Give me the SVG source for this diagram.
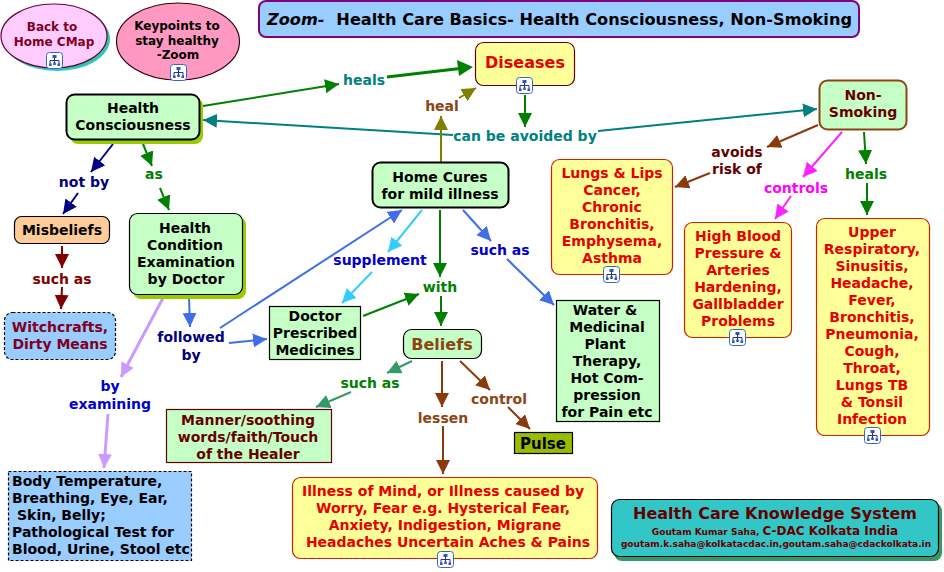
<svg xmlns="http://www.w3.org/2000/svg" xmlns:xlink="http://www.w3.org/1999/xlink" width="944" height="572" viewBox="0 0 944 572">
<style>
text{font-family:"DejaVu Sans",Verdana,sans-serif;font-weight:700;font-size:14px;text-anchor:middle}
text.e{font-size:12px}
.k{fill:#000}.r{fill:#e60000}.d{fill:#660000}.m{fill:#800020}
.g{fill:#c6ffc6}.y{fill:#ffff99}
.b1{stroke:#000;stroke-width:1.2}.b2{stroke:#000;stroke-width:2}.br{stroke:#cc2200;stroke-width:1.2}
.c{fill:none;stroke-width:2}
.lg{fill:#008000}.lt{fill:#008080}.ln{fill:#000080}.lb{fill:#0000cc}.lo{fill:#8b4513}.lr{fill:#800000}.lm{fill:#ff00ff}
</style>
<defs>
<marker id="aG" markerUnits="userSpaceOnUse" markerWidth="16" markerHeight="16" refX="14" refY="7" orient="auto"><path d="M0 0L14 7L0 14z" fill="#008000"/></marker>
<marker id="aGL" markerUnits="userSpaceOnUse" markerWidth="16" markerHeight="16" refX="14" refY="7" orient="auto"><path d="M0 0L14 7L0 14z" fill="#339966"/></marker>
<marker id="aT" markerUnits="userSpaceOnUse" markerWidth="16" markerHeight="16" refX="14" refY="7" orient="auto"><path d="M0 0L14 7L0 14z" fill="#008080"/></marker>
<marker id="aO" markerUnits="userSpaceOnUse" markerWidth="16" markerHeight="16" refX="14" refY="7" orient="auto"><path d="M0 0L14 7L0 14z" fill="#808000"/></marker>
<marker id="aN" markerUnits="userSpaceOnUse" markerWidth="16" markerHeight="16" refX="14" refY="7" orient="auto"><path d="M0 0L14 7L0 14z" fill="#000080"/></marker>
<marker id="aR" markerUnits="userSpaceOnUse" markerWidth="16" markerHeight="16" refX="14" refY="7" orient="auto"><path d="M0 0L14 7L0 14z" fill="#800000"/></marker>
<marker id="aB" markerUnits="userSpaceOnUse" markerWidth="16" markerHeight="16" refX="14" refY="7" orient="auto"><path d="M0 0L14 7L0 14z" fill="#3f6ee8"/></marker>
<marker id="aL" markerUnits="userSpaceOnUse" markerWidth="16" markerHeight="16" refX="14" refY="7" orient="auto"><path d="M0 0L14 7L0 14z" fill="#cc99ff"/></marker>
<marker id="aS" markerUnits="userSpaceOnUse" markerWidth="16" markerHeight="16" refX="14" refY="7" orient="auto"><path d="M0 0L14 7L0 14z" fill="#33ccff"/></marker>
<marker id="aW" markerUnits="userSpaceOnUse" markerWidth="16" markerHeight="16" refX="14" refY="7" orient="auto"><path d="M0 0L14 7L0 14z" fill="#8b3a0e"/></marker>
<marker id="aM" markerUnits="userSpaceOnUse" markerWidth="16" markerHeight="16" refX="14" refY="7" orient="auto"><path d="M0 0L14 7L0 14z" fill="#ff22ff"/></marker>
<symbol id="ic" viewBox="0 0 17 17" overflow="visible">
<rect x=".5" y=".5" width="16" height="16" rx="3" fill="#fff" stroke="#3366cc"/>
<path d="M8.500 6V8M4 12V8.500H13V12M8.500 8V12" fill="none" stroke="#223388" stroke-width="1"/>
<path d="M6.500 3h4v3h-4zM3 11.500h2.600v2.500H3zM7.200 10.500h2.600v2.500H7.200zM11.500 11.500h2.600v2.500h-2.600z" fill="#3355bb"/>
</symbol>
</defs>

<g id="connectors">
<path class="c" stroke="#008000" marker-end="url(#aG)" d="M203 106L339 84"/>
<path fill="none" stroke="#008000" stroke-width="3" d="M387 77L460 68.500"/><path fill="#008000" d="M473 67L457 60L459 76z"/>
<path class="c" stroke="#008080" marker-end="url(#aT)" d="M453 135L203 120"/>
<path class="c" stroke="#008080" marker-end="url(#aT)" d="M598 131L817 109"/>
<path class="c" stroke="#808000" marker-end="url(#aO)" d="M441 162V116"/>
<path class="c" stroke="#808000" marker-end="url(#aO)" d="M459 98L476 88"/>
<path class="c" stroke="#008000" marker-end="url(#aG)" d="M525 95V127"/>
<path class="c" stroke="#8b3a0e" marker-end="url(#aW)" d="M818 125L767 147"/>
<path class="c" stroke="#8b3a0e" marker-end="url(#aW)" d="M710 173L675 187"/>
<path class="c" stroke="#ff22ff" marker-end="url(#aM)" d="M842 132L803 177"/>
<path class="c" stroke="#ff22ff" marker-end="url(#aM)" d="M791 196L775 219"/>
<path class="c" stroke="#008000" marker-end="url(#aG)" d="M864 132L866 164"/>
<path class="c" stroke="#008000" marker-end="url(#aG)" d="M867 183V215"/>
<path class="c" stroke="#000080" marker-end="url(#aN)" d="M113 144L91 172"/>
<path class="c" stroke="#000080" marker-end="url(#aN)" d="M78 193L63 214"/>
<path class="c" stroke="#008000" marker-end="url(#aG)" d="M143 144L152 166"/>
<path class="c" stroke="#008000" marker-end="url(#aG)" d="M160 188L169 210"/>
<path class="c" stroke="#800000" marker-end="url(#aR)" d="M62 246V268"/>
<path class="c" stroke="#800000" marker-end="url(#aR)" d="M62 287L61 309"/>
<path class="c" stroke="#3f6ee8" marker-end="url(#aB)" d="M189 298L190 327"/>
<path fill="none" stroke="#cc99ff" stroke-width="3" marker-end="url(#aL)" d="M163 298L121 377"/>
<path fill="none" stroke="#cc99ff" stroke-width="3" marker-end="url(#aL)" d="M108 414L104 468"/>
<path class="c" stroke="#3f6ee8" marker-end="url(#aB)" d="M220 328L402 210"/>
<path class="c" stroke="#3f6ee8" marker-end="url(#aB)" d="M229 343L267 339"/>
<path class="c" stroke="#33ccff" marker-end="url(#aS)" d="M422 210L388 252"/>
<path class="c" stroke="#33ccff" marker-end="url(#aS)" d="M372 272L342 303"/>
<path class="c" stroke="#008000" marker-end="url(#aG)" d="M440 210V277"/>
<path class="c" stroke="#008000" marker-end="url(#aG)" d="M441 296V326"/>
<path class="c" stroke="#008000" marker-end="url(#aG)" d="M363 316L419 294"/>
<path class="c" stroke="#3f6ee8" marker-end="url(#aB)" d="M463 210L491 241"/>
<path class="c" stroke="#3f6ee8" marker-end="url(#aB)" d="M507 259L554 305"/>
<path class="c" stroke="#339966" marker-end="url(#aGL)" d="M412 361L387 373"/>
<path class="c" stroke="#339966" marker-end="url(#aGL)" d="M351 392L316 407"/>
<path class="c" stroke="#8b3a0e" marker-end="url(#aW)" d="M442 361V407"/>
<path class="c" stroke="#8b3a0e" marker-end="url(#aW)" d="M443 426V474"/>
<path class="c" stroke="#8b3a0e" marker-end="url(#aW)" d="M460 361L490 390"/>
<path class="c" stroke="#8b3a0e" marker-end="url(#aW)" d="M508 407L530 429"/>
</g>

<g id="connector-labels">
<text class="lt" x="364" y="85">heals</text>
<text class="lo" x="442" y="111">heal</text>
<text class="lt" x="525" y="141">can be avoided by</text>
<text class="ln" x="84" y="187">not by</text>
<text class="lg" x="154" y="179">as</text>
<text class="lr" x="62" y="284">such as</text>
<text class="ln" x="191" y="342">followed</text><text class="ln" x="191" y="360">by</text>
<text class="lb" x="110" y="391">by</text><text class="lb" x="110" y="409">examining</text>
<text class="lb" x="380" y="265">supplement</text>
<text class="lg" x="440" y="292">with</text>
<text class="lb" x="500" y="255">such as</text>
<text class="lg" x="370" y="388">such as</text>
<text class="lo" x="443" y="423">lessen</text>
<text class="lo" x="499" y="404">control</text>
<text class="d" x="737" y="157">avoids</text><text class="d" x="737" y="174">risk of</text>
<text class="lm" x="796" y="193">controls</text>
<text class="lg" x="866" y="179">heals</text>
</g>

<g id="back-home">
<ellipse cx="57" cy="39" rx="53" ry="32" fill="#2fc6b6"/>
<ellipse cx="54" cy="36" rx="53" ry="32" fill="#ffccff" stroke="#660033" stroke-width="1.2"/>
<text class="m e" x="52" y="31">Back to</text><text class="m e" x="54" y="46">Home CMap</text>
<use xlink:href="#ic" x="46" y="52" width="17" height="17"/>
</g>
<g id="keypoints">
<ellipse cx="178" cy="41.500" rx="61.500" ry="38.500" fill="#ff99c2" stroke="#330011" stroke-width="1.2"/>
<text class="k e" x="177" y="30">Keypoints to</text><text class="k e" x="177" y="45">stay healthy</text><text class="k e" x="178" y="59">-Zoom</text>
<use xlink:href="#ic" x="170" y="64" width="17" height="17"/>
</g>
<g id="title">
<rect x="259" y="1" width="600" height="36" rx="7" fill="#99ccff" stroke="#800080" stroke-width="2"/>
<text x="267" y="25" style="text-anchor:start;font-size:15.500px" fill="#000" textLength="585" lengthAdjust="spacingAndGlyphs"><tspan font-style="italic">Zoom-</tspan>  <tspan dx="6">Health Care Basics- Health Consciousness, Non-Smoking</tspan></text>
</g>
<g id="health-consciousness">
<rect x="70" y="98" width="133" height="46" rx="8" fill="#99cc00"/>
<rect x="66.500" y="94.500" width="133" height="45" rx="8" class="g b2"/>
<text class="k" x="133" y="113">Health</text><text class="k" x="133" y="130">Consciousness</text>
</g>
<g id="misbeliefs">
<rect x="14.500" y="216.500" width="95" height="27" rx="7" fill="#ffcc99" class="b1"/>
<text class="k" x="62" y="235">Misbeliefs</text>
</g>
<g id="witchcrafts">
<rect x="4.500" y="312.500" width="111" height="47" rx="8" fill="#99ccff" class="b1" stroke-dasharray="3 2"/>
<text class="m" x="60" y="332">Witchcrafts,</text><text class="m" x="60" y="349">Dirty Means</text>
</g>
<g id="health-condition">
<rect x="133" y="217" width="113" height="82" rx="8" fill="#99cc00"/>
<rect x="129.500" y="213.500" width="113" height="81" rx="8" class="g b1"/>
<text class="k" x="185" y="233">Health</text><text class="k" x="185" y="250">Condition</text><text class="k" x="186" y="267">Examination</text><text class="k" x="186" y="284">by Doctor</text>
</g>
<g id="body-temperature">
<rect x="8.500" y="471.500" width="183" height="89" fill="#99ccff" class="b1" stroke-dasharray="3 2"/>
<text class="k" x="12" y="486" style="text-anchor:start">Body Temperature,</text><text class="k" x="12" y="503" style="text-anchor:start">Breathing, Eye, Ear,</text><text class="k" x="17" y="520" style="text-anchor:start">Skin, Belly;</text><text class="k" x="12" y="537" style="text-anchor:start">Pathological Test for</text><text class="k" x="12" y="554" style="text-anchor:start">Blood, Urine, Stool etc</text>
</g>
<g id="doctor-medicines">
<rect x="269.500" y="306.500" width="91" height="53" class="g b1"/>
<text class="k" x="315" y="321">Doctor</text><text class="k" x="315" y="338">Prescribed</text><text class="k" x="315" y="355">Medicines</text>
</g>
<g id="home-cures">
<rect x="372.500" y="162.500" width="136" height="45" rx="8" class="g b2"/>
<text class="k" x="440" y="182">Home Cures</text><text class="k" x="440" y="199">for mild illness</text>
</g>
<g id="diseases">
<rect x="475.500" y="42.500" width="99" height="43" rx="8" class="y" stroke="#660000" stroke-width="1.2"/>
<text class="r" x="525" y="68" style="font-size:16px">Diseases</text>
<use xlink:href="#ic" x="516" y="77" width="17" height="17"/>
</g>
<g id="non-smoking">
<rect x="819.500" y="80.500" width="87" height="49" rx="8" class="g" stroke="#8b4513" stroke-width="2"/>
<text class="d" x="863" y="100">Non-</text><text class="d" x="863" y="117">Smoking</text>
</g>
<g id="lungs">
<rect x="551.500" y="159.500" width="121" height="115" rx="8" class="y br"/>
<text class="r" x="612" y="178">Lungs &amp; Lips</text><text class="r" x="612" y="195">Cancer,</text><text class="r" x="612" y="212">Chronic</text><text class="r" x="612" y="229">Bronchitis,</text><text class="r" x="612" y="246">Emphysema,</text><text class="r" x="612" y="263">Asthma</text>
<use xlink:href="#ic" x="603" y="266" width="17" height="17"/>
</g>
<g id="high-blood">
<rect x="684.500" y="222.500" width="107" height="115" rx="8" class="y br"/>
<text class="r" x="738" y="241">High Blood</text><text class="r" x="738" y="258">Pressure &amp;</text><text class="r" x="738" y="275">Arteries</text><text class="r" x="738" y="292">Hardening,</text><text class="r" x="738" y="309">Gallbladder</text><text class="r" x="738" y="326">Problems</text>
<use xlink:href="#ic" x="729" y="329" width="17" height="17"/>
</g>
<g id="upper-respiratory">
<rect x="816.500" y="218.500" width="113" height="217" rx="8" class="y br"/>
<text class="r" x="872" y="237">Upper</text><text class="r" x="872" y="254">Respiratory,</text><text class="r" x="872" y="271">Sinusitis,</text><text class="r" x="872" y="288">Headache,</text><text class="r" x="872" y="305">Fever,</text><text class="r" x="872" y="322">Bronchitis,</text><text class="r" x="872" y="339">Pneumonia,</text><text class="r" x="872" y="356">Cough,</text><text class="r" x="872" y="373">Throat,</text><text class="r" x="872" y="390">Lungs TB</text><text class="r" x="872" y="407">&amp; Tonsil</text><text class="r" x="872" y="424">Infection</text>
<use xlink:href="#ic" x="864" y="427" width="17" height="17"/>
</g>
<g id="water">
<rect x="556.500" y="300.500" width="103" height="121" class="g b1"/>
<text class="k" x="605" y="315">Water &amp;</text><text class="k" x="607" y="332">Medicinal</text><text class="k" x="605" y="349">Plant</text><text class="k" x="607" y="366">Therapy,</text><text class="k" x="607" y="383">Hot Com-</text><text class="k" x="607" y="400">pression</text><text class="k" x="607" y="417">for Pain etc</text>
</g>
<g id="beliefs">
<rect x="403.500" y="329.500" width="78" height="29" rx="8" class="g b1"/>
<text class="lo" x="442" y="350" style="font-size:16px">Beliefs</text>
</g>
<g id="manner">
<rect x="166.500" y="409.500" width="165" height="53" class="g" stroke="#660000" stroke-width="1.2"/>
<text class="d" x="248" y="425">Manner/soothing</text><text class="d" x="248" y="442">words/faith/Touch</text><text class="d" x="248" y="459">of the Healer</text>
</g>
<g id="pulse">
<rect x="514.500" y="432.500" width="58" height="21" fill="#99bb00" class="b1"/>
<text class="k" x="543" y="449" style="font-size:15px">Pulse</text>
</g>
<g id="illness">
<rect x="292.500" y="477.500" width="305" height="81" rx="8" class="y br"/>
<text class="r" x="443" y="496">Illness of Mind, or Illness caused by</text><text class="r" x="443" y="513">Worry, Fear e.g. Hysterical Fear,</text><text class="r" x="445" y="530">Anxiety, Indigestion, Migrane</text><text class="r" x="448" y="547">Headaches Uncertain Aches &amp; Pains</text>
<use xlink:href="#ic" x="437" y="551" width="17" height="17"/>
</g>
<g id="knowledge-system">
<rect x="614" y="503" width="328" height="58" rx="8" fill="#339966"/>
<rect x="611.500" y="499.500" width="327" height="57" rx="8" fill="#33c6c6" class="b1"/>
<text class="d" x="775" y="519" style="font-size:16px">Health Care Knowledge System</text>
<text class="d" x="775" y="535"><tspan style="font-size:9px">Goutam Kumar Saha, </tspan><tspan style="font-size:12px">C-DAC Kolkata India</tspan></text>
<text class="d" x="776" y="547" style="font-size:9px">goutam.k.saha@kolkatacdac.in,goutam.saha@cdackolkata.in</text>
</g>
</svg>
